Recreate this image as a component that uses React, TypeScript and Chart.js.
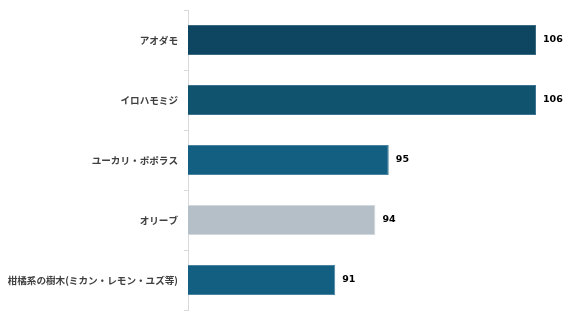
import React, { useEffect, useRef } from "react";
import { Chart, registerables } from "chart.js";

Chart.register(...registerables);

const categories = [
  "アオダモ",
  "イロハモミジ",
  "ユーカリ・ポポラス",
  "オリーブ",
  "柑橘系の樹木(ミカン・レモン・ユズ等)",
];
const values = [106, 106, 95, 94, 91];
const barColors = ["#0e4560", "#10536f", "#135f81", "#b5bfc8", "#135f81"];
const borderColors = ["#3a6a82", "#3d7390", "#4a84a2", "#d0d7dd", "#4a84a2"];

const valueLabels = {
  id: "valueLabels",
  afterDatasetsDraw(chart: any) {
    const ctx = chart.ctx;
    const meta = chart.getDatasetMeta(0);
    ctx.save();
    ctx.font = "bold 9.5px 'DejaVu Sans'";
    ctx.fillStyle = "#000000";
    ctx.textAlign = "left";
    ctx.textBaseline = "middle";
    meta.data.forEach((bar: any, i: number) => {
      ctx.fillText(String(values[i]), bar.x + 7, bar.y);
    });
    ctx.restore();
  },
};

export default function App() {
  const ref = useRef<HTMLCanvasElement>(null);
  useEffect(() => {
    if (!ref.current) return;
    const chart = new Chart(ref.current, {
      type: "bar",
      data: {
        labels: categories,
        datasets: [
          {
            data: values,
            backgroundColor: barColors,
            borderColor: borderColors,
            borderWidth: 1,
            barPercentage: 0.5,
            categoryPercentage: 1,
          },
        ],
      },
      options: {
        indexAxis: "y",
        animation: false,
        responsive: false,
        maintainAspectRatio: false,
        layout: { padding: { left: 0, right: 40, top: 10, bottom: 5 } },
        plugins: { legend: { display: false }, tooltip: { enabled: false } },
        scales: {
          x: { display: false, min: 80, max: 106 },
          y: {
            afterFit: (scale: any) => {
              scale.width = 188;
              scale.paddingTop = 0;
              scale.paddingBottom = 0;
            },
            grid: {
              drawOnChartArea: false,
              tickLength: 4,
              color: "#d9d9d9",
            },
            border: { display: true, color: "#d9d9d9" },
            ticks: {
              padding: 6,
              color: "#404040",
              font: { family: "'Noto Sans CJK JP'", size: 9.6, weight: "bold" },
            },
          },
        },
      },
      plugins: [valueLabels],
    });
    return () => chart.destroy();
  }, []);
  return (
    <div style={{ position: "absolute", left: 0, top: 0, width: 576, height: 315, background: "#fff" }}>
      <canvas ref={ref} width={576} height={315} style={{ width: 576, height: 315 }} />
    </div>
  );
}
